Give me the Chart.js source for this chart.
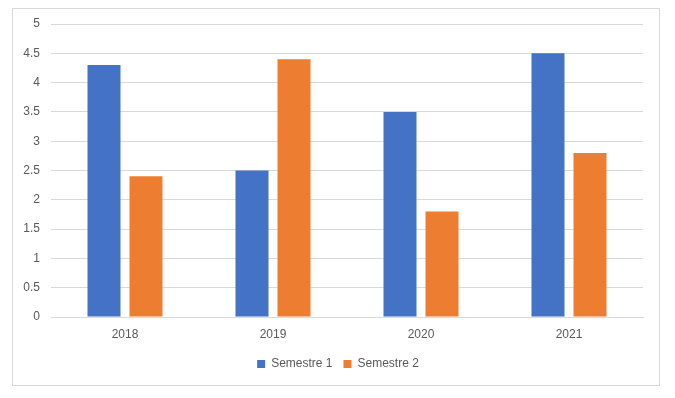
<!DOCTYPE html>
<html><head><meta charset="utf-8">
<script src="https://cdn.jsdelivr.net/npm/chart.js@4/dist/chart.umd.min.js"></script>
<style>
html,body{margin:0;padding:0;background:#fff;}
#box{position:absolute;left:12px;top:8px;width:646px;height:376px;border:1px solid #d9d9d9;}
canvas{display:block;}
</style></head><body>
<div id="box"><canvas id="c" width="646" height="376"></canvas></div>
<script>
const categories = ["2018", "2019", "2020", "2021"];
const semestre1 = [4.3, 2.5, 3.5, 4.5];
const semestre2 = [2.4, 4.4, 1.8, 2.8];
const seriesNames = ["Semestre 1", "Semestre 2"];
const yMin = 0, yMax = 5, yStep = 0.5;

const font = {family: "'Liberation Sans', Arial, sans-serif", size: 12};
const legendShift = {
  id: 'legendShift',
  afterLayout(chart) {
    if (chart.legend) { chart.legend.left -= 9; chart.legend.right -= 9; }
  }
};
new Chart(document.getElementById('c'), {
  type: 'bar',
  data: {
    labels: categories,
    datasets: [
      {label: seriesNames[0], data: semestre1, backgroundColor: '#4472c4', categoryPercentage: 0.5676, barPercentage: 0.786},
      {label: seriesNames[1], data: semestre2, backgroundColor: '#ed7d31', categoryPercentage: 0.5676, barPercentage: 0.786}
    ]
  },
  plugins: [legendShift],
  options: {
    responsive: false,
    animation: false,
    layout: {padding: {top: 15, right: 16, left: 0, bottom: 5}},
    plugins: {
      tooltip: {enabled: false},
      legend: {
        position: 'bottom',
        fullSize: false,
        labels: {boxWidth: 8, boxHeight: 8, padding: 11, color: '#595959', font: font}
      }
    },
    scales: {
      x: {
        grid: {display: false, drawTicks: false},
        border: {color: '#d9d9d9'},
        ticks: {color: '#595959', font: font, padding: 10},
        afterFit: s => { s.height = 30; }
      },
      y: {
        min: yMin, max: yMax,
        grid: {color: '#d9d9d9', drawTicks: false},
        border: {display: false},
        ticks: {stepSize: yStep, color: '#595959', font: font, padding: 11,
          callback: v => String(v)},
        afterFit: s => { s.width = 38; s.paddingTop = 7; s.paddingBottom = 7; }
      }
    }
  }
});
</script>
</body></html>
